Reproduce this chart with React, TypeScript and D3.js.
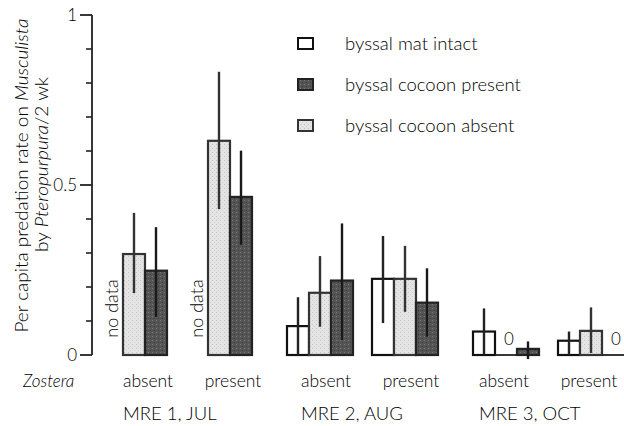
import React from "react";
import * as d3 from "d3";

const mreLabels = ["MRE 1, JUL", "MRE 2, AUG", "MRE 3, OCT"];
const zosteraLevels = ["absent", "present"];
// bar order inside a group
const seriesNames = ["byssal mat intact", "byssal cocoon absent", "byssal cocoon present"];
// legend order
const legendOrder = ["byssal mat intact", "byssal cocoon present", "byssal cocoon absent"];

// 6 groups: MRE1 absent, MRE1 present, MRE2 absent, MRE2 present, MRE3 absent, MRE3 present
const matIntactMean = [null, null, 0.085, 0.224, 0.069, 0.042];
const matIntactLow = [null, null, 0, 0.094, 0, 0];
const matIntactHigh = [null, null, 0.17, 0.35, 0.137, 0.069];

const cocoonAbsentMean = [0.297, 0.63, 0.183, 0.224, 0, 0.071];
const cocoonAbsentLow = [0.182, 0.429, 0.083, 0.127, null, 0.006];
const cocoonAbsentHigh = [0.418, 0.833, 0.291, 0.321, null, 0.14];

const cocoonPresentMean = [0.248, 0.465, 0.219, 0.154, 0.018, 0];
const cocoonPresentLow = [0.112, 0.324, 0.044, 0.054, -0.012, null];
const cocoonPresentHigh = [0.376, 0.601, 0.387, 0.255, 0.04, null];

const majorTicks = [0, 0.5, 1];
const majorTickLabels = ["0", "0.5", "1"];
const minorTicks = [0.1, 0.2, 0.3, 0.4, 0.6, 0.7, 0.8, 0.9];

const seriesData: Record<string, { mean: (number | null)[]; low: (number | null)[]; high: (number | null)[] }> = {
  "byssal mat intact": { mean: matIntactMean, low: matIntactLow, high: matIntactHigh },
  "byssal cocoon absent": { mean: cocoonAbsentMean, low: cocoonAbsentLow, high: cocoonAbsentHigh },
  "byssal cocoon present": { mean: cocoonPresentMean, low: cocoonPresentLow, high: cocoonPresentHigh },
};

const styles: Record<string, { fill: string; stroke: string; err: string }> = {
  "byssal mat intact": { fill: "#ffffff", stroke: "#111", err: "#222" },
  "byssal cocoon absent": { fill: "url(#lightPat)", stroke: "#333", err: "#333" },
  "byssal cocoon present": { fill: "url(#darkPat)", stroke: "#222", err: "#1a1a1a" },
};

const FONT = "Lato, 'Noto Sans', sans-serif";
const FW = 300;
const TXT = "#000";

export default function App() {
  const W = 624, H = 426;
  const y = d3.scaleLinear().domain([0, 1]).range([355, 15]);
  const xMre = d3.scalePoint<string>().domain(mreLabels).range([101, 473]);
  const xZ = d3.scalePoint<string>().domain(zosteraLevels).range([0, 85]);
  const xS = d3.scaleBand<string>().domain(seriesNames).range([0, 66]);
  const labelX = d3.scalePoint<string>().domain(mreLabels).range([148, 504]);
  const bw = xS.bandwidth();
  const axisX = 92;

  const groups: { mre: string; z: string; i: number }[] = [];
  mreLabels.forEach((m, mi) => zosteraLevels.forEach((z, zi) => groups.push({ mre: m, z, i: mi * 2 + zi })));

  return (
    <svg width={W} height={H} style={{ position: "absolute", left: 0, top: 0, background: "#fff" }}>
      <defs>
        <pattern id="lightPat" width="4" height="4" patternUnits="userSpaceOnUse">
          <rect width="4" height="4" fill="#e4e4e4" />
          <rect x="0" y="0" width="1" height="1" fill="#c4c4c4" />
          <rect x="2" y="2" width="1" height="1" fill="#cfcfcf" />
        </pattern>
        <pattern id="darkPat" width="4" height="4" patternUnits="userSpaceOnUse">
          <rect width="4" height="4" fill="#555" />
          <rect x="0" y="0" width="1" height="1" fill="#777" />
          <rect x="2" y="2" width="1" height="1" fill="#3a3a3a" />
        </pattern>
      </defs>
      <rect width={W} height={H} fill="#fff" />

      {/* Y axis */}
      <line x1={axisX} x2={axisX} y1={y(1)} y2={y(0)} stroke="#222" strokeWidth={1.8} />
      {majorTicks.map((t, k) => (
        <g key={"M" + t}>
          <line x1={axisX - 12} x2={axisX} y1={y(t)} y2={y(t)} stroke="#222" strokeWidth={1.8} />
          <text x={axisX - 15} y={y(t) + 6} textAnchor="end" fontSize={17} fontWeight={FW} fontFamily={FONT} fill={TXT}>
            {majorTickLabels[k]}
          </text>
        </g>
      ))}
      {minorTicks.map((t) => (
        <line key={"m" + t} x1={axisX - 6} x2={axisX} y1={y(t)} y2={y(t)} stroke="#222" strokeWidth={1.6} />
      ))}

      {/* Y label */}
      <text transform={`translate(28,175.5) rotate(-90)`} textAnchor="middle" fontSize={18} fontWeight={FW} fontFamily={FONT} fill={TXT} textLength={314} lengthAdjust="spacingAndGlyphs">
        Per capita predation rate on <tspan fontStyle="italic">Musculista</tspan>
      </text>
      <text transform={`translate(47.5,164.5) rotate(-90)`} textAnchor="middle" fontSize={18} fontWeight={FW} fontFamily={FONT} fill={TXT} textLength={175} lengthAdjust="spacingAndGlyphs">
        by <tspan fontStyle="italic">Pteropurpura</tspan>/2 wk
      </text>

      {/* Bars */}
      {groups.map((g) => {
        const x0 = (xMre(g.mre) as number) + (xZ(g.z) as number);
        return seriesNames.map((s) => {
          const d = seriesData[s];
          const st = styles[s];
          const mean = d.mean[g.i];
          const xs = x0 + (xS(s) as number);
          const cx = xs + bw / 2;
          if (mean === null) {
            return (
              <text key={g.i + s} transform={`translate(${cx + 5.5},308.5) rotate(-90)`} textAnchor="middle" fontSize={18} fontWeight={FW} fontFamily={FONT} fill={TXT}>
                no data
              </text>
            );
          }
          if (mean === 0) {
            return (
              <g key={g.i + s}>
                <line x1={xs} x2={xs + bw} y1={y(0)} y2={y(0)} stroke="#222" strokeWidth={1.8} />
                <text x={cx + 3} y={y(0) - 10} textAnchor="middle" fontSize={17} fontWeight={FW} fontFamily={FONT} fill={TXT}>0</text>
              </g>
            );
          }
          const lo = d.low[g.i] as number;
          const hi = d.high[g.i] as number;
          return (
            <g key={g.i + s}>
              <rect x={xs} y={y(mean)} width={bw} height={y(0) - y(mean)} fill={st.fill} stroke={st.stroke} strokeWidth={2.2} />
              <line x1={cx} x2={cx} y1={y(hi)} y2={y(lo)} stroke={st.err} strokeWidth={2.4} />
            </g>
          );
        });
      })}

      {/* Category labels */}
      <text x={23} y={387} fontSize={17} fontStyle="italic" fontWeight={FW} fontFamily={FONT} fill={TXT}>Zostera</text>
      {groups.map((g) => (
        <text key={"zl" + g.i} x={(labelX(g.mre) as number) + (xZ(g.z) as number)} y={387} textAnchor="middle" fontSize={17.5} fontWeight={FW} fontFamily={FONT} fill={TXT}>
          {g.z}
        </text>
      ))}
      {mreLabels.map((m) => (
        <text key={"ml" + m} x={(labelX(m) as number) - 25} y={420} fontSize={18.5} fontWeight={FW} fontFamily={FONT} fill={TXT}>
          {m}
        </text>
      ))}

      {/* Legend */}
      {legendOrder.map((s, k) => {
        const ly = 38 + k * 41;
        const st = styles[s];
        return (
          <g key={"lg" + s}>
            <rect x={298} y={ly} width={15} height={11} fill={st.fill} stroke={st.stroke} strokeWidth={2} />
            <text x={345} y={ly + 11.5} fontSize={18.5} fontWeight={FW} fontFamily={FONT} fill={TXT}>{s}</text>
          </g>
        );
      })}
    </svg>
  );
}
